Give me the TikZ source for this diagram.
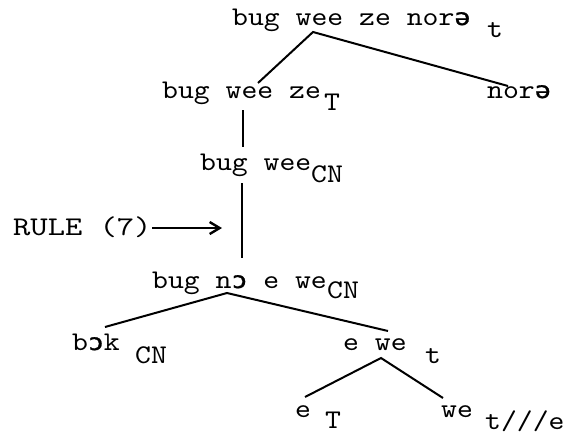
\documentclass[tikz,border=0pt]{standalone}
\usepackage{fontspec}
\newfontfamily\tw{lmmono10-regular.otf}[FakeStretch=1.12]
\newfontfamily\twwide{lmmono10-regular.otf}[FakeStretch=1.22]
\newfontfamily\ipa{DejaVu Sans Mono}[Scale=0.85,FakeStretch=1.15,FakeBold=1.2]
\newcommand{\schwa}{{\ipa ə}}
\newcommand{\openo}{{\ipa ɔ}}
\usetikzlibrary{arrows.meta}
\begin{document}
\begin{tikzpicture}[x=1pt,y=-1pt,
  lbl/.style={anchor=base west,inner sep=0pt,font=\tw\fontsize{27}{30}\selectfont},
  widelbl/.style={anchor=base west,inner sep=0pt,font=\twwide\fontsize{27}{30}\selectfont},
  edge/.style={line width=2pt},
  ptr/.style={line width=1.5pt,-{Straight Barb[length=10pt,width=12pt,line width=2.4pt]}}]
\useasboundingbox (0,0) rectangle (568,434);
% texts
\node[lbl] (top) at (232,25) {bug wee ze nor\schwa};
\node[lbl] (topsub) at (487,37) {t};
\node[lbl] (l2) at (162,98) {bug wee ze};
\node[lbl] (l2sub) at (324,110) {T};
\node[lbl] (r2) at (487,98) {nor\schwa};
\node[lbl] (l3) at (200,170) {bug wee};
\node[lbl] (l3sub) at (311,182) {CN};
\node[widelbl] (rule) at (13,235) {RULE (7)};
\node[lbl] (l4) at (152,288) {bug n\openo{} e we};
\node[lbl] (l4sub) at (327,298) {CN};
\node[lbl] (l5) at (72,350) {b\openo k};
\node[lbl] (l5sub) at (135,363) {CN};
\node[lbl] (r5) at (343,350) {e we};
\node[lbl] (r5sub) at (425,363) {t};
\node[lbl] (l6) at (295,417) {e};
\node[lbl] (l6sub) at (325,428) {T};
\node[lbl] (r6) at (441,417) {we};
\node[lbl] (r6sub) at (485,429) {t///e};
% connector end points
\coordinate (topA) at (313,32);
\coordinate (l2T) at (258,83);
\coordinate (r2T) at (508,86);
\coordinate (l2B) at (243,110);
\coordinate (l3T) at (243,147);
\coordinate (l3B) at (242,183);
\coordinate (l4T) at (242,258);
\coordinate (arrS) at (152,228);
\coordinate (arrE) at (222,228);
\coordinate (l4A) at (227,293);
\coordinate (l5T) at (105,327);
\coordinate (r5T) at (388,331);
\coordinate (r5A) at (381,358);
\coordinate (l6T) at (305,397);
\coordinate (r6T) at (443,398);
% connectors
\draw[edge] (l2T) -- (topA) -- (r2T);
\draw[edge] (l2B) -- (l3T);
\draw[edge] (l3B) -- (l4T);
\draw[ptr] (arrS) -- (arrE);
\draw[edge] (l5T) -- (l4A) -- (r5T);
\draw[edge] (l6T) -- (r5A) -- (r6T);
\end{tikzpicture}
\end{document}
